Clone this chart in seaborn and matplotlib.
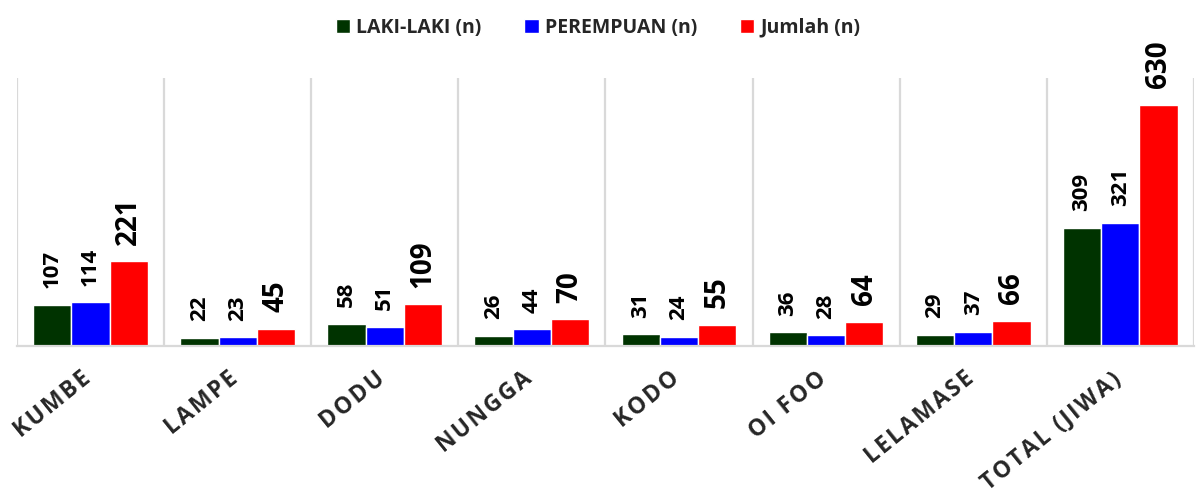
import numpy as np
import pandas as pd
import matplotlib.pyplot as plt
import matplotlib.transforms as mtransforms
import seaborn as sns
from matplotlib.ticker import FixedLocator

desa = ["KUMBE", "LAMPE", "DODU", "NUNGGA", "KODO", "OI FOO", "LELAMASE", "TOTAL (JIWA)"]
laki = [107, 22, 58, 26, 31, 36, 29, 309]
perempuan = [114, 23, 51, 44, 24, 28, 37, 321]
jumlah = [221, 45, 109, 70, 55, 64, 66, 630]
seri = ["LAKI-LAKI (n)", "PEREMPUAN (n)", "Jumlah (n)"]
warna = ["#003300", "#0000FF", "#FF0000"]

df = pd.DataFrame({"desa": desa, seri[0]: laki, seri[1]: perempuan, seri[2]: jumlah})
df = df.melt(id_vars="desa", var_name="seri", value_name="n")

sns.set_style("white")
plt.rcParams['font.family'] = ['Open Sans', 'DejaVu Sans']
plt.rcParams['font.weight'] = 'bold'

fig = plt.figure(figsize=(11.96, 5.03), dpi=100)
ax = fig.add_axes([0.0142, 0.312, 0.984, 0.533])

sns.barplot(data=df, x="desa", y="n", hue="seri", palette=warna, width=0.78,
            saturation=1, edgecolor="white", linewidth=1, ax=ax, legend=True)

for i, cont in enumerate(ax.containers):
    big = i == 2
    ax.bar_label(cont, rotation=90, padding=12, fontweight="bold",
                 fontsize=20 if big else 16, color="black")

ax.set_xlim(-0.5, len(desa) - 0.5)
ax.set_ylim(0, 700)
ax.set_yticks([])
ax.set_xlabel("")
ax.set_ylabel("")

# garis pemisah antar kategori
ax.xaxis.set_minor_locator(FixedLocator(np.arange(len(desa) + 1) - 0.5))
ax.grid(which="minor", axis="x", color="#d9d9d9", linewidth=1.6)
ax.tick_params(axis="x", which="both", length=0, pad=15)

# label miring dengan jarak huruf
spaced = ["\u200a".join(list(d)) for d in desa]
ax.set_xticks(range(len(desa)))
ax.set_xticklabels(spaced, rotation=39, ha="right", rotation_mode="anchor",
                   fontweight="bold", fontsize=16.5)
geser = mtransforms.ScaledTranslation(-7 / 72, 0, fig.dpi_scale_trans)
for lab in ax.get_xticklabels():
    lab.set_transform(lab.get_transform() + geser)

for s in ["top", "left", "right"]:
    ax.spines[s].set_visible(False)
ax.spines["bottom"].set_color("#d9d9d9")
ax.spines["bottom"].set_linewidth(1.6)

ax.legend(loc="upper center", bbox_to_anchor=(0.5, 1.0), bbox_transform=fig.transFigure,
          ncol=3, frameon=False, handlelength=0.75, handleheight=0.75,
          handletextpad=0.3, columnspacing=2.2,
          prop={"weight": "bold", "size": 14})

fig.savefig("out.png", dpi=100)
